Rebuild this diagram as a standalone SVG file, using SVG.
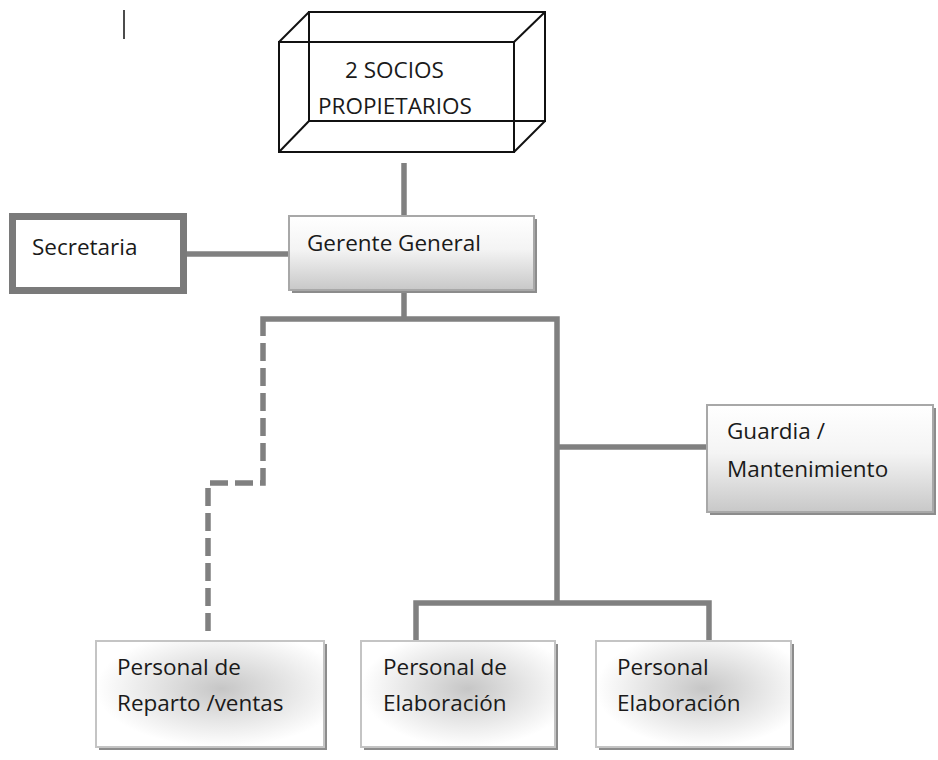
<svg xmlns="http://www.w3.org/2000/svg" width="938" height="760" viewBox="0 0 938 760">
<style>
text{font-family:"Open Sans","Noto Sans","Liberation Sans",sans-serif;font-size:22.5px;fill:#1a1a1a}
.cube{fill:none;stroke:#111;stroke-width:2}
.conn{fill:none;stroke:#808080;stroke-width:5.5}
.dash{fill:none;stroke:#808080;stroke-width:5.5;stroke-dasharray:18 7;stroke-dashoffset:14}
.shadow{fill:#8c8c8c}
.lin{fill:url(#lg);stroke:#a8a8a8;stroke-width:2}
.rad{fill:url(#rg);stroke:#c4c4c4;stroke-width:2}
</style>
<defs>
<linearGradient id="lg" x1="0" y1="0" x2="0" y2="1">
<stop offset="0" stop-color="#ffffff"/>
<stop offset="0.45" stop-color="#f4f4f4"/>
<stop offset="1" stop-color="#c8c8c8"/>
</linearGradient>
<radialGradient id="rg" cx="0.55" cy="0.45" r="0.55">
<stop offset="0" stop-color="#c6c6c6"/>
<stop offset="0.55" stop-color="#e6e6e6"/>
<stop offset="1" stop-color="#ffffff"/>
</radialGradient>
</defs>
<rect width="938" height="760" fill="#ffffff"/>
<line x1="124" y1="10" x2="124" y2="39" stroke="#111" stroke-width="1.5"/>
<g id="connectors">
<line class="conn" x1="404" y1="163" x2="404" y2="216"/>
<line class="conn" x1="187" y1="254" x2="289" y2="254"/>
<line class="conn" x1="404" y1="290" x2="404" y2="319"/>
<polyline class="conn" points="263,332 263,319 557,319 557,605"/>
<line class="conn" x1="557" y1="447" x2="707" y2="447"/>
<polyline class="conn" points="416,641 416,603 709,603 709,641"/>
<polyline class="dash" points="263,332 263,483 208,483 208,631"/>
</g>
<g id="socios">
<rect class="cube" x="309" y="12" width="236" height="109"/>
<rect class="cube" x="279" y="42" width="235" height="110"/>
<line class="cube" x1="279" y1="42" x2="309" y2="12"/>
<line class="cube" x1="514" y1="42" x2="545" y2="12"/>
<line class="cube" x1="279" y1="152" x2="309" y2="121"/>
<line class="cube" x1="514" y1="152" x2="545" y2="121"/>
<text x="345" y="78">2 SOCIOS</text>
<text x="318" y="114">PROPIETARIOS</text>
</g>
<g id="secretaria">
<rect x="13" y="218" width="173" height="76" fill="#9a9a9a"/>
<rect x="12.5" y="216.5" width="171" height="74" fill="#ffffff" stroke="#7a7a7a" stroke-width="7"/>
<text x="32" y="255">Secretaria</text>
</g>
<g id="gerente">
<rect class="shadow" x="292" y="219" width="245" height="74"/>
<rect class="lin" x="289" y="216" width="245" height="74"/>
<text x="307" y="251">Gerente General</text>
</g>
<g id="guardia">
<rect class="shadow" x="710" y="408" width="226" height="107"/>
<rect class="lin" x="707" y="405" width="226" height="107"/>
<text x="727" y="439">Guardia /</text>
<text x="727" y="477">Mantenimiento</text>
</g>
<g id="reparto">
<rect class="shadow" x="99" y="644" width="228" height="106"/>
<rect class="rad" x="96" y="641" width="228" height="106"/>
<text x="117" y="675">Personal de</text>
<text x="117" y="711">Reparto /ventas</text>
</g>
<g id="elaboracion1">
<rect class="shadow" x="364" y="644" width="194" height="106"/>
<rect class="rad" x="361" y="641" width="194" height="106"/>
<text x="383" y="675">Personal de</text>
<text x="383" y="711">Elaboración</text>
</g>
<g id="elaboracion2">
<rect class="shadow" x="599" y="644" width="195" height="106"/>
<rect class="rad" x="596" y="641" width="195" height="106"/>
<text x="617" y="675">Personal</text>
<text x="617" y="711">Elaboración</text>
</g>
</svg>
